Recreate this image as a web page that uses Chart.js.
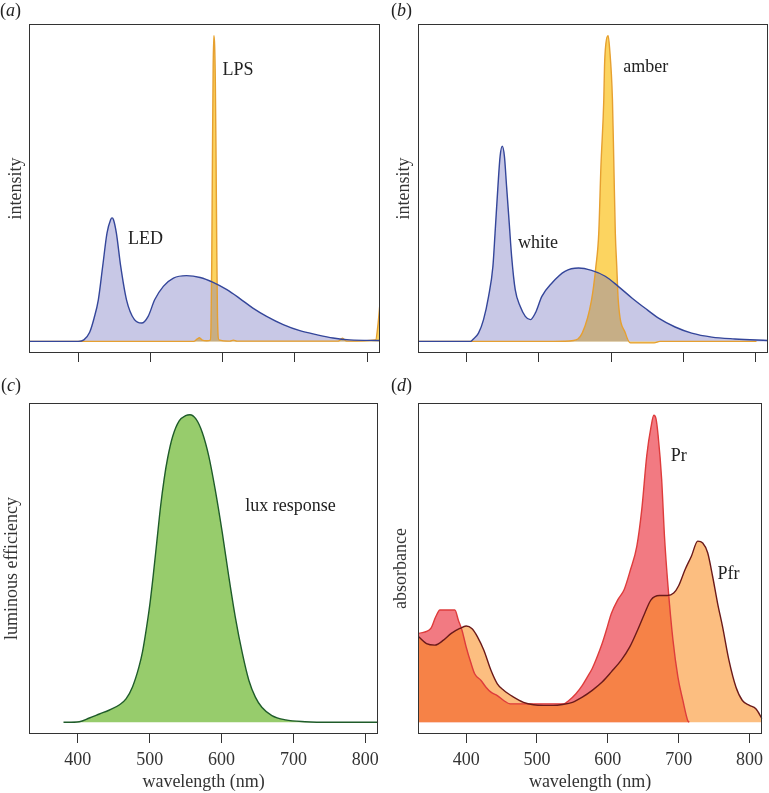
<!DOCTYPE html>
<html>
<head>
<meta charset="utf-8">
<script src="https://cdn.jsdelivr.net/npm/chart.js@4.4.1/dist/chart.umd.min.js"></script>
<style>
html,body{margin:0;padding:0;background:#fff;overflow:hidden}
#wrap{position:relative;width:769px;height:793px}
canvas{position:absolute}
.lab{position:absolute;font-family:"Liberation Serif",serif;font-size:18px;line-height:22px;color:#222}
</style>
</head>
<body>
<div id="wrap">
<canvas id="ca" width="385" height="370" style="left:0;top:0"></canvas>
<canvas id="cb" width="384" height="370" style="left:385px;top:0"></canvas>
<canvas id="cc" width="385" height="423" style="left:0;top:370px"></canvas>
<canvas id="cd" width="384" height="423" style="left:385px;top:370px"></canvas>
<div class="lab" style="left:0;top:-1px">(<i>a</i>)</div>
<div class="lab" style="left:391px;top:-1px">(<i>b</i>)</div>
<div class="lab" style="left:1px;top:374px">(<i>c</i>)</div>
<div class="lab" style="left:391px;top:374px">(<i>d</i>)</div>
</div>
<script>
// (a) LED and low pressure sodium
var ledWl = [332,400,408,416,422,428,434,440,445,447,449,453,459,467,478,488,497,506,518,532,550,569,587,606,624,642,661,684,707,730,753,776,818];
var ledVal = [0,0,0.005,0.03,0.075,0.136,0.245,0.354,0.398,0.404,0.398,0.354,0.245,0.136,0.071,0.060,0.082,0.136,0.180,0.207,0.215,0.209,0.193,0.169,0.140,0.109,0.082,0.055,0.035,0.022,0.011,0.005,0.003];
var lpsWl = [332,560,565,568,572,578,583,584,585,586,587,588,589,590,591,592,593,595,610,615,620,760,766,772,812,815,818];
var lpsVal = [0,0,0.008,0.012,0.004,0.002,0.004,0.05,0.25,0.6,0.9,1.0,0.97,0.85,0.6,0.3,0.08,0.005,0.001,0.004,0.001,0.001,0.01,0.001,0.005,0.05,0.125];

// (b) white and amber LED
var whiteWl = [333,405,409,416,423,430,436,439,443,446,449,452,455,459,462,467,474,481,488,495,504,518,536,555,573,592,610,629,647,666,689,712,740,772,818];
var whiteVal = [0,0,0.008,0.027,0.071,0.147,0.245,0.354,0.507,0.605,0.638,0.605,0.507,0.376,0.278,0.169,0.114,0.082,0.071,0.093,0.147,0.191,0.229,0.240,0.232,0.213,0.180,0.142,0.109,0.076,0.047,0.027,0.014,0.008,0.003];
var amberWl = [333,520,548,560,573,579,583,586,590,591,593,596,598,602,604,606,608,610,620,627,660,668,802];
var amberVal = [0,0,0.003,0.027,0.136,0.245,0.354,0.572,0.791,0.9,0.976,1.0,0.96,0.791,0.572,0.354,0.245,0.136,0.027,-0.005,-0.005,0,0];

// (c) lux response
var luxWl = [380,402,416,430,444,458,467,476,485,490,495,500,505,510,515,520,525,532,541,550,556,564,573,582,591,601,610,619,629,638,647,656,670,689,716,753,818];
var luxVal = [0,0.002,0.014,0.027,0.040,0.057,0.076,0.115,0.180,0.23,0.30,0.38,0.48,0.59,0.70,0.79,0.86,0.93,0.98,0.997,1.0,0.987,0.943,0.867,0.758,0.616,0.474,0.343,0.223,0.136,0.082,0.049,0.022,0.008,0.002,0,0];

// (d) phytochrome Pr / Pfr
var prWl = [333,350,357,363,384,389,394,400,407,412,421,428,435,444,453,462,481,509,538,545,555,564,571,578,585,592,598,605,614,623,632,641,648,655,661,665,668,671,676,680,685,692,699,706,713,715];
var prVal = [0.289,0.305,0.343,0.365,0.365,0.332,0.300,0.245,0.191,0.158,0.136,0.114,0.098,0.087,0.071,0.060,0.060,0.060,0.060,0.071,0.093,0.120,0.147,0.175,0.213,0.256,0.300,0.354,0.398,0.431,0.496,0.573,0.693,0.867,0.960,0.998,0.987,0.933,0.791,0.605,0.442,0.267,0.147,0.071,0.005,0];
var pfrWl = [333,344,356,368,379,391,400,408,416,425,435,444,453,467,481,495,509,523,536,550,564,578,592,605,619,631,643,652,661,673,684,693,700,709,718,727,734,741,748,755,762,771,781,790,800,809,818];
var pfrVal = [0.278,0.256,0.251,0.267,0.289,0.305,0.313,0.305,0.278,0.234,0.169,0.125,0.104,0.082,0.065,0.057,0.055,0.055,0.058,0.065,0.082,0.104,0.131,0.164,0.202,0.245,0.305,0.354,0.398,0.412,0.412,0.420,0.444,0.496,0.540,0.589,0.583,0.551,0.474,0.387,0.311,0.202,0.114,0.071,0.055,0.044,0.011];

var xTicks = [400,500,600,700,800];
var serif = 'Liberation Serif';

function pts(wl, v){
	return wl.map(function(x,i){ return {x:x, y:v[i]}; });
}

function series(wl, v, line, fill){
	return {
		data: pts(wl, v),
		borderColor: line,
		backgroundColor: fill,
		fill: 'origin',
		borderWidth: 1.4,
		pointRadius: 0,
		cubicInterpolationMode: 'monotone'
	};
}

// frame round the plot region
var boxPlugin = {
	id: 'box',
	afterDraw: function(c){
		var a = c.chartArea, ctx = c.ctx;
		ctx.save();
		ctx.strokeStyle = '#333';
		ctx.lineWidth = 1;
		ctx.strokeRect(Math.round(a.left)+0.5, Math.round(a.top)+0.5,
			Math.round(a.right-a.left)-1, Math.round(a.bottom-a.top)-1);
		ctx.restore();
	}
};

// curve names, placed in data units
var notePlugin = {
	id: 'notes',
	afterDatasetsDraw: function(c, args, opts){
		var ctx = c.ctx;
		ctx.save();
		ctx.font = '18px "' + serif + '"';
		ctx.fillStyle = '#222';
		ctx.textAlign = 'left';
		ctx.textBaseline = 'middle';
		(opts.items || []).forEach(function(t){
			ctx.fillText(t.text, c.scales.x.getPixelForValue(t.x), c.scales.y.getPixelForValue(t.y));
		});
		ctx.restore();
	}
};

function makeChart(id, datasets, o){
	return new Chart(document.getElementById(id), {
		type: 'line',
		data: {datasets: datasets},
		options: {
			responsive: false,
			animation: false,
			layout: {padding: {top: o.padTop, right: o.padRight, left: 0, bottom: 0}},
			plugins: {
				legend: {display: false},
				tooltip: {enabled: false},
				filler: {drawTime: 'beforeDatasetsDraw'},
				notes: {items: o.notes}
			},
			scales: {
				x: {
					type: 'linear',
					min: 332,
					max: 818,
					afterBuildTicks: function(s){ s.ticks = xTicks.map(function(v){ return {value: v}; }); },
					afterFit: function(s){ s.height = o.xHeight; },
					grid: {drawOnChartArea: false, drawTicks: true, tickLength: 9, color: '#333'},
					border: {display: false},
					ticks: {display: o.labels, padding: 6, color: '#333', font: {family: serif, size: 18}},
					title: {display: o.labels, text: 'wavelength (nm)', color: '#333',
						font: {family: serif, size: 18}, padding: {top: 0, bottom: 0}}
				},
				y: {
					min: -0.038,
					max: 1.038,
					afterFit: function(s){ s.width = o.yWidth; },
					grid: {display: false},
					border: {display: false},
					ticks: {display: false},
					title: {display: true, text: o.yTitle, color: '#333',
						font: {family: serif, size: 18}, padding: {top: o.yPad, bottom: 0}}
				}
			}
		},
		plugins: [boxPlugin, notePlugin]
	});
}

makeChart('ca', [
	series(ledWl, ledVal, '#34469a', 'rgba(117,117,192,0.4)'),
	series(lpsWl, lpsVal, '#e6a030', 'rgb(252,212,96)')
], {padTop: 24, padRight: 5, yWidth: 29, xHeight: 17, labels: false, yTitle: 'intensity', yPad: 5,
	notes: [{text: 'LPS', x: 600, y: 0.887}, {text: 'LED', x: 469, y: 0.333}]});

makeChart('cb', [
	series(whiteWl, whiteVal, '#34469a', 'rgba(117,117,192,0.4)'),
	series(amberWl, amberVal, '#e6a030', 'rgb(252,212,96)')
], {padTop: 24, padRight: 1, yWidth: 33, xHeight: 17, labels: false, yTitle: 'intensity', yPad: 8,
	notes: [{text: 'amber', x: 617, y: 0.895}, {text: 'white', x: 471, y: 0.32}]});

makeChart('cc', [
	series(luxWl, luxVal, '#1f5c2a', '#97cc6c')
], {padTop: 33, padRight: 5, yWidth: 29, xHeight: 59, labels: true, yTitle: 'luminous efficiency', yPad: 1,
	notes: [{text: 'lux response', x: 633, y: 0.702}]});

makeChart('cd', [
	series(pfrWl, pfrVal, '#6b1a1a', 'rgba(250,137,24,0.55)'),
	series(prWl, prVal, '#de3c3c', '#f27a82')
], {padTop: 33, padRight: 1, yWidth: 33, xHeight: 59, labels: true, yTitle: 'absorbance', yPad: 5,
	notes: [{text: 'Pr', x: 689, y: 0.866}, {text: 'Pfr', x: 755, y: 0.48}]});
</script>
</body>
</html>
